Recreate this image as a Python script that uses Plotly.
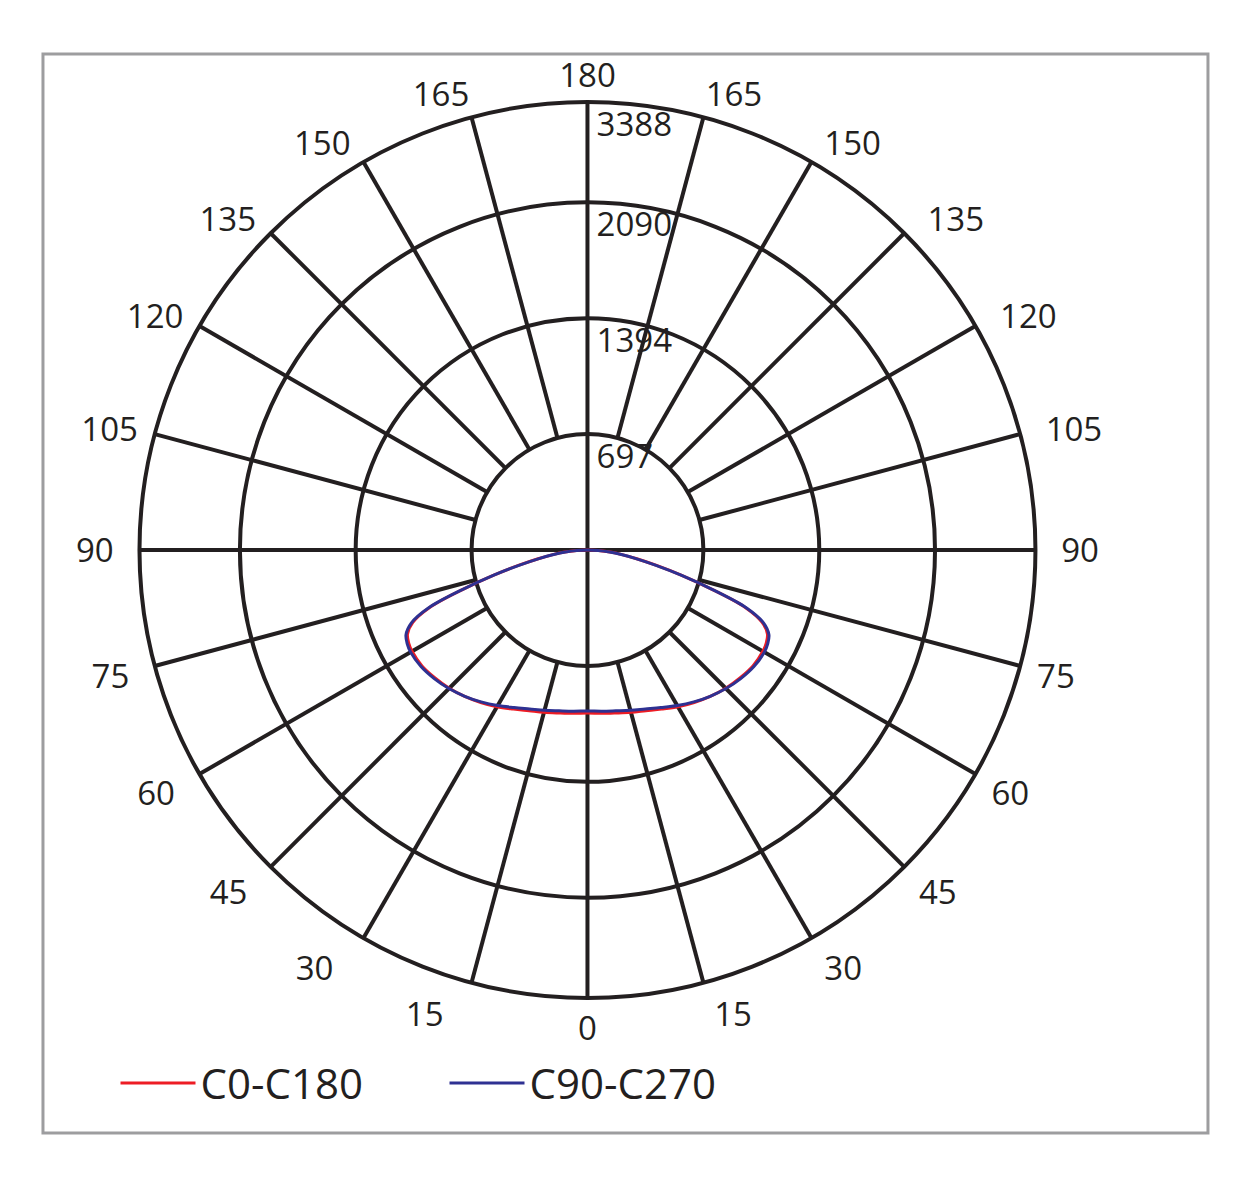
import plotly.graph_objects as go

# Polar angle (deg) from nadir, one half-plane (symmetric)
angles = [0, 5, 10, 15, 20, 25, 30, 35, 40, 45, 50, 55, 60, 62.5, 65, 67.5, 70,
          72.5, 75, 77.5, 80, 82.5, 85, 87.5, 90]
# Luminous intensity (cd)
c0_c180 = [980, 986, 995, 1010, 1028, 1055, 1088, 1119, 1149, 1176, 1197, 1215,
           1218, 1212, 1194, 1137, 1010, 782, 583, 421, 301, 210, 138, 66, 0]
c90_c270 = [968, 973, 982, 998, 1017, 1045, 1080, 1115, 1148, 1178, 1203, 1222,
            1228, 1222, 1204, 1147, 1018, 786, 583, 418, 296, 205, 133, 63, 0]

ring_values = [697, 1394, 2090, 2694]
ring_labels = ["697", "1394", "2090", "3388"]
spoke_angles = list(range(0, 360, 15))
angle_labels = [str(a if a <= 180 else 360 - a) for a in spoke_angles]

R_MAX = ring_values[-1]
R_INNER = ring_values[0]
INK = "#231f20"
FONT = "Open Sans"
NB = "\u00a0"

# extra label padding (in non-breaking spaces) away from the circle
pad_left = {15: 3, 30: 3, 45: 2, 60: 2, 75: 2, 90: 2, 105: 1, 120: 1, 135: 1, 150: 1, 165: 0}
pad_right = {15: 1, 30: 1, 45: 1, 60: 1, 75: 1, 90: 2, 105: 2, 120: 2, 135: 2, 150: 1, 165: 0}
tick_text = []
for a, lab in zip(spoke_angles, angle_labels):
    if 0 < a < 180:
        tick_text.append(lab + NB * pad_left.get(a, 0))
    elif a > 180:
        tick_text.append(NB * pad_right.get(360 - a, 0) + lab)
    else:
        tick_text.append(lab)


def mirror(vals):
    th = [-a for a in angles[::-1]] + angles[1:]
    rr = list(vals[::-1]) + list(vals[1:])
    return th, rr


fig = go.Figure()

# spokes
sth, sr = [], []
for a in spoke_angles:
    r0 = 0 if a % 90 == 0 else R_INNER
    sth += [a, a, None]
    sr += [r0, R_MAX, None]
fig.add_trace(go.Scatterpolar(r=sr, theta=sth, mode="lines",
                              line=dict(color=INK, width=4),
                              showlegend=False, hoverinfo="skip"))

# radial labels
fig.add_trace(go.Scatterpolar(r=ring_values, theta=[180] * len(ring_values),
                              text=ring_labels, mode="markers+text",
                              marker=dict(size=13, color="rgba(0,0,0,0)",
                                          line=dict(width=0)),
                              textposition="bottom right",
                              textfont=dict(family=FONT, size=33, color=INK),
                              showlegend=False, hoverinfo="skip"))

th, rr = mirror(c0_c180)
fig.add_trace(go.Scatterpolar(r=rr, theta=th, mode="lines", name="C0-C180",
                              line=dict(color="#ed1c24", width=3, shape="spline")))
th, rr = mirror(c90_c270)
fig.add_trace(go.Scatterpolar(r=rr, theta=th, mode="lines", name="C90-C270",
                              line=dict(color="#2e3192", width=3, shape="spline")))

fig.update_layout(
    width=1242, height=1189,
    margin=dict(l=0, r=0, t=0, b=0),
    paper_bgcolor="white",
    font=dict(family=FONT, color=INK),
    polar=dict(
        domain=dict(x=[0.1123, 0.8337], y=[0.1606, 0.9142]),
        bgcolor="white",
        radialaxis=dict(range=[0, R_MAX], tickmode="array", tickvals=ring_values,
                        showticklabels=False, ticks="", showline=False,
                        gridcolor=INK, gridwidth=4),
        angularaxis=dict(rotation=270, direction="clockwise", tickmode="array",
                         tickvals=spoke_angles, ticktext=tick_text,
                         showgrid=False, ticks="", linecolor=INK, linewidth=4,
                         tickfont=dict(family=FONT, size=33, color=INK)),
    ),
    legend=dict(orientation="h", x=0.093, y=0.089, xanchor="left", yanchor="middle",
                font=dict(family=FONT, size=42, color=INK), itemwidth=75,
                entrywidth=239, entrywidthmode="pixels",
                bgcolor="rgba(0,0,0,0)"),
    shapes=[dict(type="rect", xref="paper", yref="paper",
                 x0=0.0346, x1=0.9726, y0=0.0471, y1=0.9546,
                 line=dict(color="#9d9d9f", width=3))],
)

fig.write_html("out.html")
